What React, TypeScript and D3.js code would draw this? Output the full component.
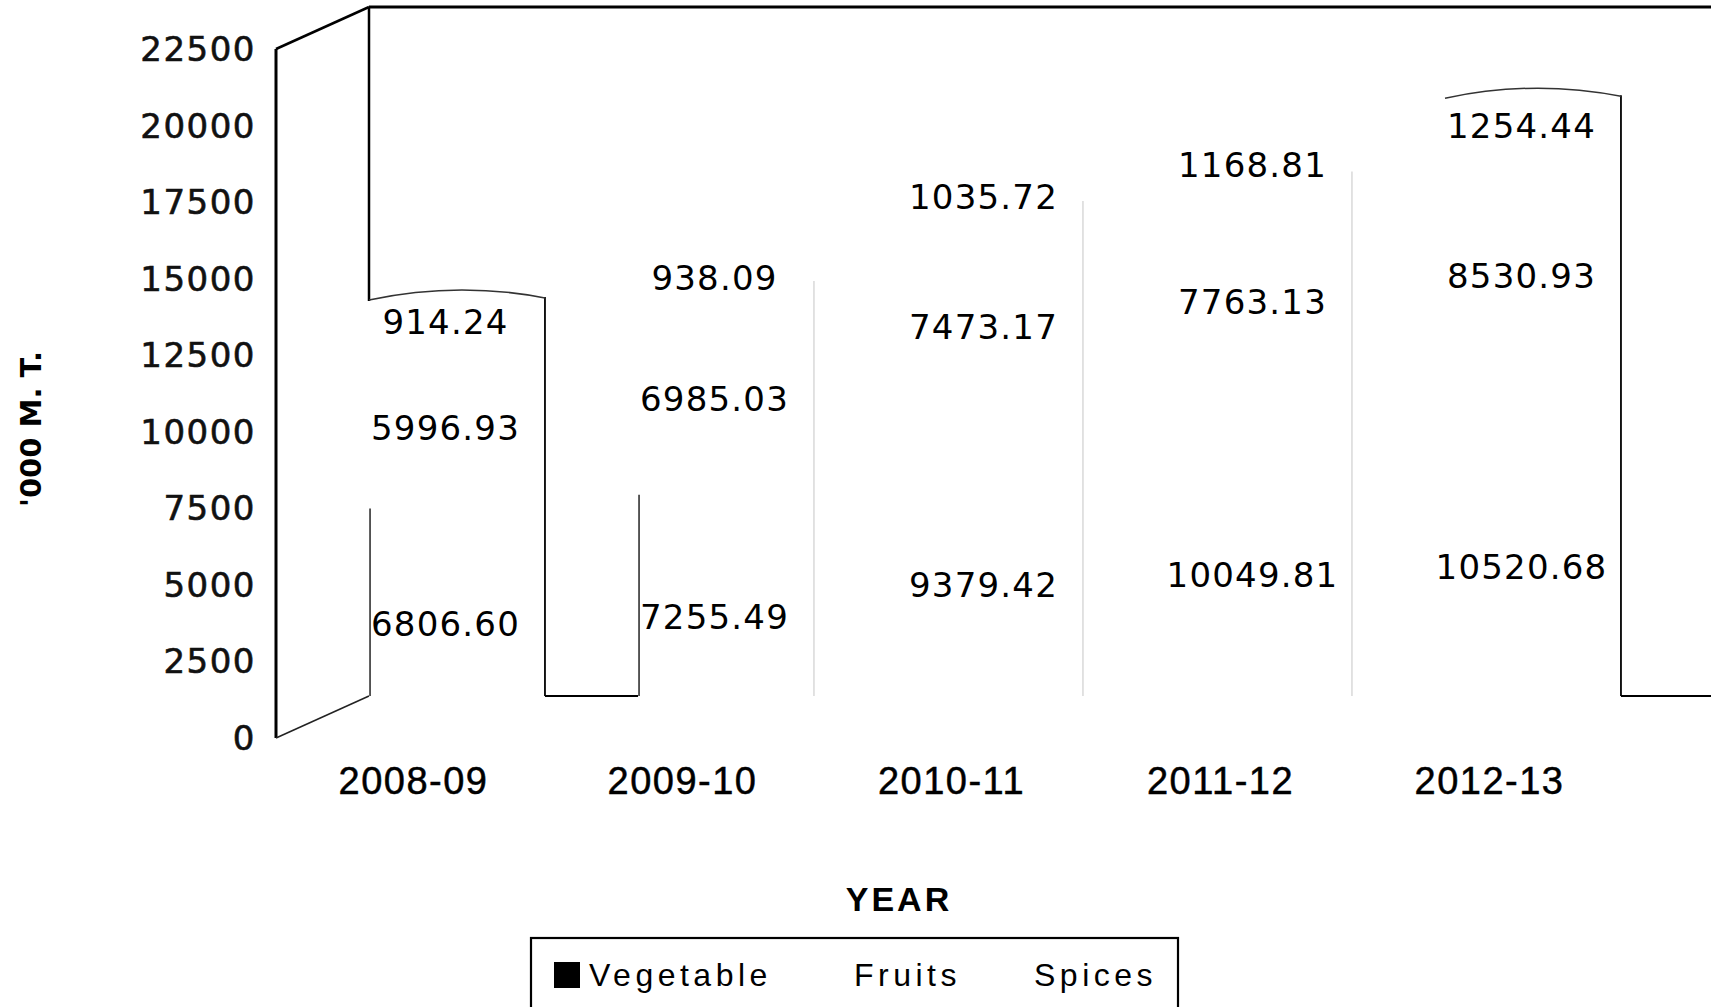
import React from 'react';
import * as d3 from 'd3';

const years = ['2008-09', '2009-10', '2010-11', '2011-12', '2012-13'];
const vegetable = [6806.6, 7255.49, 9379.42, 10049.81, 10520.68];
const fruits = [5996.93, 6985.03, 7473.17, 7763.13, 8530.93];
const spices = [914.24, 938.09, 1035.72, 1168.81, 1254.44];
const yTicks = [0, 2500, 5000, 7500, 10000, 12500, 15000, 17500, 20000, 22500];
const seriesNames = ['Vegetable', 'Fruits', 'Spices'];
const swatchFill = ['#000', '#fff', '#fff'];

const W = 1711;
const H = 1007;
const x0 = 276; // front left of plot
const plotW = 1345;
const depthX = 93;
const depthY = 42;

const App = () => {
  const x = d3.scaleBand<string>().domain(years).range([0, plotW]).paddingInner(0.346).paddingOuter(0.173);
  const yFront = d3.scaleLinear().domain([0, 22500]).range([738, 49]);
  const yMid = (v: number) => yFront(v) - depthY / 2;
  const floorY = yFront(0) - depthY;
  const backX = x0 + depthX;
  const bw = x.bandwidth();

  const stacks = years.map((yr, i) => {
    const vals = [vegetable[i], fruits[i], spices[i]];
    let acc = 0;
    const segs = vals.map((v) => {
      const s = { v, lo: acc, hi: acc + v };
      acc += v;
      return s;
    });
    return { yr, segs, total: acc, left: x0 + depthX / 2 + (x(yr) as number) };
  });

  const strong = (i: number) => i === 0 || i === years.length - 1;
  const font = 'DejaVu Sans, sans-serif';

  return (
    <svg width={W} height={H} style={{ position: 'absolute', left: 0, top: 0, background: '#fff' }}>
      {/* left side wall */}
      <line x1={x0} y1={yFront(22500)} x2={x0} y2={yFront(0)} stroke="#000" strokeWidth={3} />
      <line x1={x0} y1={yFront(22500)} x2={backX} y2={yFront(22500) - depthY} stroke="#000" strokeWidth={2.5} />
      <line x1={x0} y1={yFront(0)} x2={backX} y2={floorY} stroke="#222" strokeWidth={1.5} />
      {/* back wall top edge */}
      <line x1={backX} y1={yFront(22500) - depthY} x2={W} y2={yFront(22500) - depthY} stroke="#000" strokeWidth={3} />
      <line x1={backX} y1={yFront(22500) - depthY} x2={backX} y2={yMid(stacks[0].total) + 4} stroke="#000" strokeWidth={2.5} />

      {/* columns (outlines only) */}
      {stacks.map((c, i) => {
        const right = c.left + bw;
        const top = yMid(c.total);
        return (
          <g key={c.yr}>
            <line
              x1={right}
              y1={strong(i) ? top : yMid(c.segs[1].hi)}
              x2={right}
              y2={floorY}
              stroke={strong(i) ? '#000' : '#cfcfcf'}
              strokeWidth={strong(i) ? 1.8 : 1.2}
            />
            {strong(i) && (
              <path d={`M${c.left},${top + 3} Q${c.left + bw / 2},${top - 16} ${right},${top + 1}`} fill="none" stroke="#333" strokeWidth={1.5} />
            )}
            {i < 2 && (
              <line x1={c.left + 1} y1={yMid(c.segs[0].hi)} x2={c.left + 1} y2={floorY} stroke="#000" strokeWidth={1.3} />
            )}
            {i === 0 && <line x1={right} y1={floorY} x2={stacks[1].left} y2={floorY} stroke="#000" strokeWidth={1.8} />}
            {i === years.length - 1 && <line x1={right} y1={floorY} x2={W} y2={floorY} stroke="#000" strokeWidth={1.8} />}
          </g>
        );
      })}

      {/* data labels */}
      {stacks.map((c) =>
        c.segs.map((s, j) => (
          <text
            key={c.yr + j}
            x={x0 + (x(c.yr) as number) + bw / 2 + 34 + 1}
            y={yFront((s.lo + s.hi) / 2) - 9.5}
            textAnchor="middle"
            dominantBaseline="central"
            fontFamily={font}
            fontSize={34}
            letterSpacing={1.2}
            fill="#000"
          >
            {s.v.toFixed(2)}
          </text>
        ))
      )}

      {/* y axis tick labels */}
      {yTicks.map((t) => (
        <text
          key={t}
          x={256}
          y={yFront(t)}
          textAnchor="end"
          dominantBaseline="central"
          fontFamily={font}
          fontSize={34}
          letterSpacing={1.5}
          fill="#111"
          stroke="#111"
          strokeWidth={0.6}
        >
          {t}
        </text>
      ))}

      {/* x axis labels */}
      {years.map((yr) => (
        <text
          key={yr}
          x={x0 + (x(yr) as number) + bw / 2 + 3}
          y={781}
          textAnchor="middle"
          dominantBaseline="central"
          fontFamily="Liberation Sans, Arial, sans-serif"
          fontSize={38}
          letterSpacing={1.5}
          fill="#000"
          stroke="#000"
          strokeWidth={0.5}
        >
          {yr}
        </text>
      ))}

      {/* axis titles */}
      <text x={899} y={899} textAnchor="middle" dominantBaseline="central" fontFamily="Liberation Sans, Arial, sans-serif" fontWeight="bold" fontSize={34} letterSpacing={3} fill="#000">
        YEAR
      </text>
      <text
        transform="translate(31,429) rotate(-90)"
        textAnchor="middle"
        dominantBaseline="central"
        fontFamily={font}
        fontWeight="bold"
        fontSize={29}
        fill="#000"
      >
        '000 M. T.
      </text>

      {/* legend */}
      <rect x={531} y={938} width={647} height={80} fill="#fff" stroke="#000" strokeWidth={2.2} />
      {seriesNames.map((n, i) => {
        const lx = [554, 819, 999][i];
        return (
          <g key={n}>
            <rect x={lx} y={962} width={26} height={26} fill={swatchFill[i]} />
            <text x={lx + 35} y={975} dominantBaseline="central" fontFamily="Liberation Sans, Arial, sans-serif" fontSize={32} letterSpacing={4.5} fill="#000">
              {n}
            </text>
          </g>
        );
      })}
    </svg>
  );
};

export default App;
